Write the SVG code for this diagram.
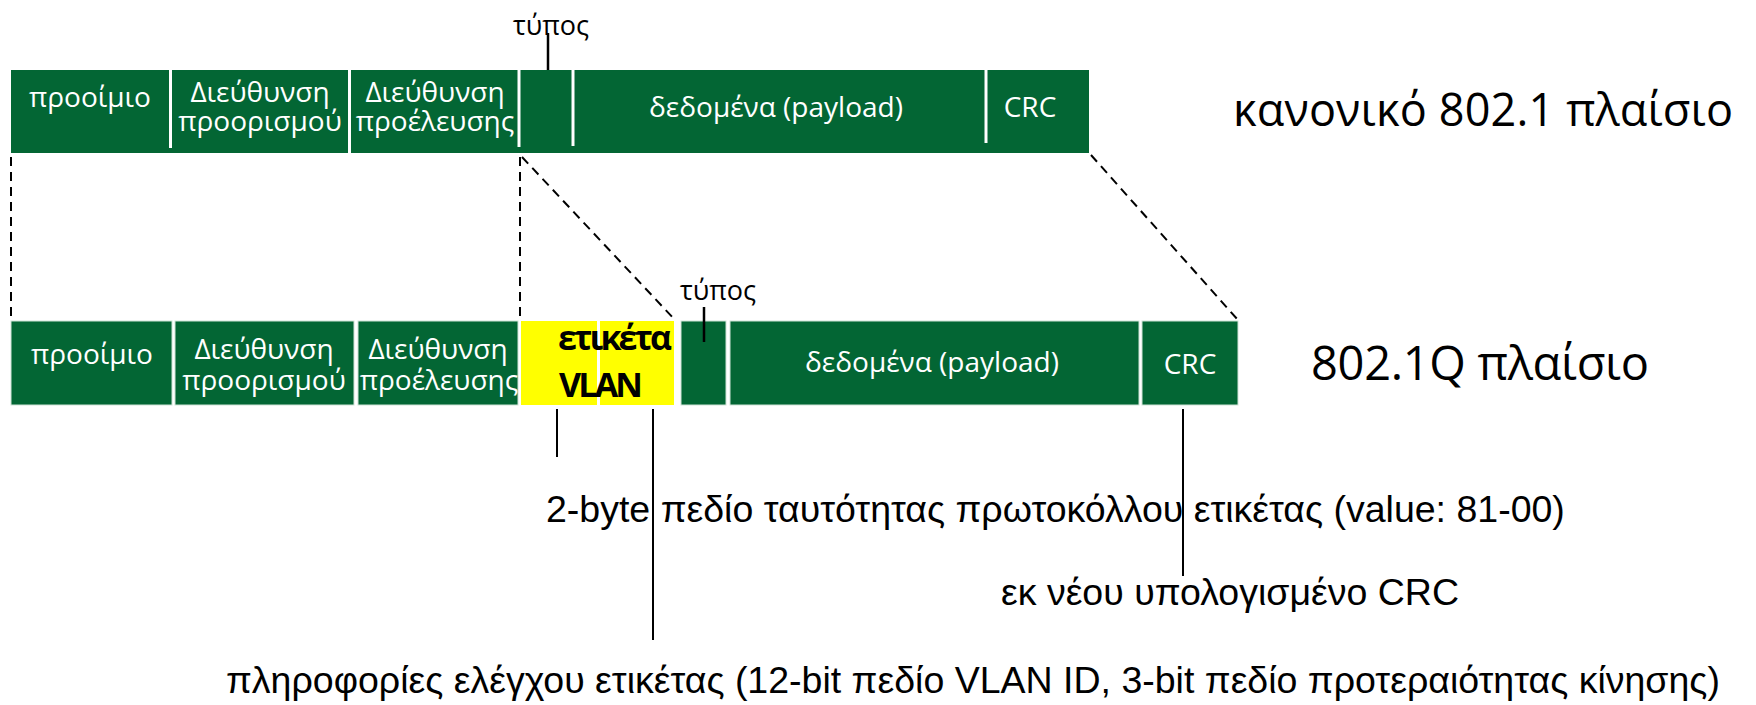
<svg xmlns="http://www.w3.org/2000/svg" width="1756" height="705" viewBox="0 0 1756 705">
<style>
.g{fill:#036634}
.gb{fill:#036634;stroke:#cfe3d6;stroke-width:1}
.y{fill:#ffff00}
.sep{stroke:#ffffff;stroke-width:3}
.lbl{font-family:"Open Sans","Noto Sans",sans-serif;font-size:28px;fill:#ffffff;text-anchor:middle}
.blk{font-family:"Open Sans","Noto Sans",sans-serif;fill:#000000}
.ar{font-family:"Liberation Sans",Arial,sans-serif;font-size:37.5px;fill:#000000}
.dash{stroke:#000;stroke-width:2;stroke-dasharray:9 6;fill:none}
.ln{stroke:#000;stroke-width:2;fill:none}
</style>
<rect width="1756" height="705" fill="#ffffff"/>

<g id="frame-standard">
  <rect class="g" x="11" y="70" width="1078" height="83"/>
  <line class="sep" x1="170.5" y1="70" x2="170.5" y2="148"/>
  <line class="sep" x1="349.5" y1="70" x2="349.5" y2="153"/>
  <line class="sep" x1="519" y1="70" x2="519" y2="147"/>
  <line class="sep" x1="573" y1="70" x2="573" y2="146"/>
  <line class="sep" x1="986" y1="70" x2="986" y2="143"/>
  <text class="lbl" x="90" y="107">προοίμιο</text>
  <text class="lbl" x="260" y="102">Διεύθυνση</text>
  <text class="lbl" x="260" y="131">προορισμού</text>
  <text class="lbl" x="435" y="102">Διεύθυνση</text>
  <text class="lbl" x="435" y="131">προέλευσης</text>
  <text class="lbl" x="776" y="117">δεδομένα (payload)</text>
  <text class="lbl" x="1030" y="117">CRC</text>
</g>

<g id="type-label-top">
  <text class="blk" x="551" y="35" font-size="27" text-anchor="middle">τύπος</text>
  <line x1="548" y1="33" x2="548" y2="70" stroke="#000" stroke-width="2.5"/>
</g>

<g id="title-standard">
  <text class="blk" x="1233" y="126" font-size="45" textLength="500">κανονικό 802.1 πλαίσιο</text>
</g>

<g id="frame-8021q">
  <rect class="gb" x="11" y="321" width="161" height="84"/>
  <rect class="gb" x="175" y="321" width="179" height="84"/>
  <rect class="gb" x="358" y="321" width="160" height="84"/>
  <rect class="y" x="521" y="321" width="76" height="84"/>
  <rect class="y" x="600" y="321" width="74" height="84"/>
  <rect class="gb" x="681" y="321" width="45" height="84"/>
  <rect class="gb" x="730" y="321" width="409" height="84"/>
  <rect class="gb" x="1142" y="321" width="96" height="84"/>
  <text class="lbl" x="92" y="364">προοίμιο</text>
  <text class="lbl" x="264" y="359">Διεύθυνση</text>
  <text class="lbl" x="264" y="390">προορισμού</text>
  <text class="lbl" x="438" y="359">Διεύθυνση</text>
  <text class="lbl" x="439" y="390">προέλευσης</text>
  <text class="lbl" x="932" y="372">δεδομένα (payload)</text>
  <text class="lbl" x="1190" y="374">CRC</text>
  <text class="blk" x="558" y="350" font-size="34" font-weight="bold" textLength="114">ετικέτα</text>
  <text class="blk" x="559" y="397" font-size="34" font-weight="bold" textLength="84">VLAN</text>
</g>

<g id="type-label-bottom">
  <text class="blk" x="718" y="300" font-size="27" text-anchor="middle">τύπος</text>
  <line x1="704" y1="307" x2="704" y2="342" stroke="#000" stroke-width="2.5"/>
</g>

<g id="title-8021q">
  <text class="blk" x="1311" y="380" font-size="47" textLength="338">802.1Q πλαίσιο</text>
</g>

<g id="connectors">
  <line class="dash" x1="11" y1="157" x2="11" y2="319"/>
  <line class="dash" x1="520" y1="157" x2="520" y2="319"/>
  <line class="dash" x1="522" y1="157" x2="676" y2="321"/>
  <line class="dash" x1="1091" y1="155" x2="1238" y2="320"/>
  <line class="ln" x1="557" y1="409" x2="557" y2="457"/>
  <line class="ln" x1="653" y1="409" x2="653" y2="640"/>
  <line class="ln" x1="1183" y1="409" x2="1183" y2="576"/>
</g>

<g id="annotations">
  <text class="ar" x="546" y="522">2-byte πεδίο ταυτότητας πρωτοκόλλου ετικέτας (value: 81-00)</text>
  <text class="ar" x="1001" y="605">εκ νέου υπολογισμένο CRC</text>
  <text class="ar" x="226" y="693">πληροφορίες ελέγχου ετικέτας (12-bit πεδίο VLAN ID, 3-bit πεδίο προτεραιότητας κίνησης)</text>
</g>
</svg>
